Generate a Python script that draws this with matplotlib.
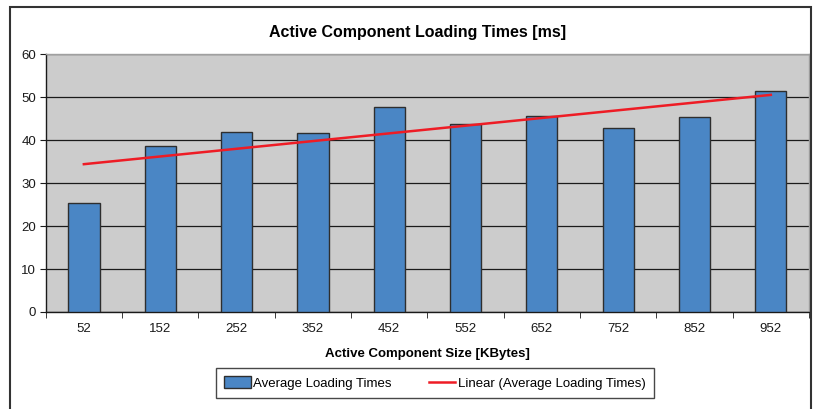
import numpy as np
import matplotlib
matplotlib.use("Agg")
import matplotlib.pyplot as plt
from matplotlib.patches import Rectangle
from matplotlib.lines import Line2D
from matplotlib.patches import Patch

plt.rcParams['font.family'] = ['Liberation Sans', 'DejaVu Sans']

sizes = ["52", "152", "252", "352", "452", "552", "652", "752", "852", "952"]
avg_times = [25.3, 38.65, 42.0, 41.75, 47.8, 43.85, 45.6, 42.9, 45.5, 51.5]

W, H = 815, 409
fig = plt.figure(figsize=(W / 100, H / 100), dpi=100)
ax = fig.add_axes([45.7 / W, 1 - 312 / H, (809 - 45.7) / W, (312 - 54.3) / H])

x = np.arange(len(sizes))
ax.set_facecolor('#CCCCCC')
ax.bar(x, avg_times, width=0.41, color='#4A86C5', edgecolor='#2E2E2E', linewidth=1.0, zorder=3)

coef = np.polyfit(x, avg_times, 1)
trend = np.polyval(coef, x)
ax.plot(x, trend, color='#EE1C25', linewidth=1.8, zorder=4)

ax.set_xlim(-0.5, len(sizes) - 0.5)
ax.set_ylim(0, 60)
ax.set_yticks(np.arange(0, 61, 10))
ax.yaxis.grid(True, color='#1A1A1A', linewidth=0.9, zorder=1)
ax.set_axisbelow(True)

ax.set_xticks(x)
ax.set_xticklabels(sizes)
ax.set_xticks(np.arange(-0.5, len(sizes), 1), minor=True)
ax.tick_params(axis='x', which='major', length=0, pad=8, labelsize=9.5, colors='#1A1A1A')
ax.tick_params(axis='x', which='minor', length=4, direction='out', color='#1A1A1A')
ax.tick_params(axis='y', length=4, direction='out', labelsize=9.5, pad=3, colors='#1A1A1A')

for s in ['top', 'right']:
    ax.spines[s].set_color('#A0A0A0')
    ax.spines[s].set_linewidth(1.0)
for s in ['left', 'bottom']:
    ax.spines[s].set_color('#1A1A1A')
    ax.spines[s].set_linewidth(1.0)

ax.set_xlabel('Active Component Size [KBytes]', fontsize=9.5, fontweight='bold', labelpad=9)
fig.text(418 / W, 1 - 32 / H, 'Active Component Loading Times [ms]', ha='center', va='center',
         fontsize=11.5, fontweight='bold')

handles = [Patch(facecolor='#4A86C5', edgecolor='#2E2E2E', linewidth=1.0),
           Line2D([0], [0], color='#EE1C25', linewidth=1.8)]
leg = fig.legend(handles, ['Average Loading Times', 'Linear (Average Loading Times)'],
                 loc='center', bbox_to_anchor=(435 / W, 1 - 383 / H), ncol=2, fontsize=9.5,
                 frameon=True, fancybox=False, edgecolor='#1A1A1A', handlelength=2.0,
                 handleheight=1.0, handletextpad=0.2, columnspacing=2.8, borderpad=0.6)
leg.get_frame().set_linewidth(1.0)

fig.patches.append(Rectangle((10 / W, -0.05), (811 - 10) / W, 1 - 7 / H + 0.05,
                             transform=fig.transFigure, fill=False, edgecolor='#333333',
                             linewidth=1.5))

fig.savefig('out.png', dpi=100)
